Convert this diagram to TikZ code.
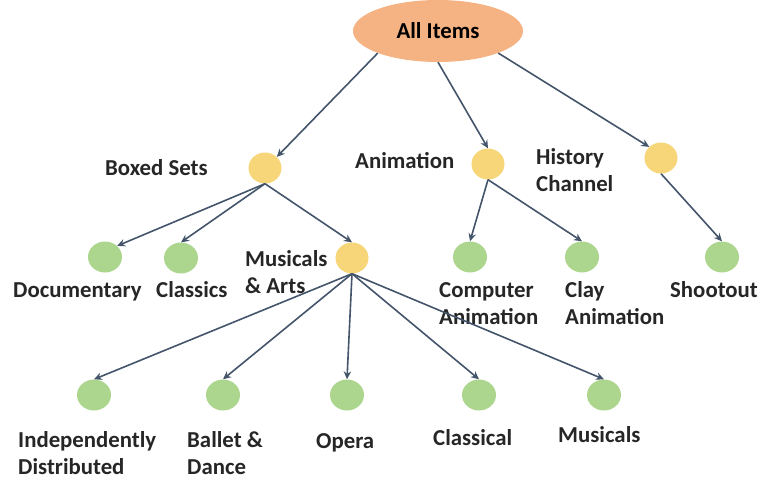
\documentclass[tikz,border=0pt]{standalone}
\usepackage{fontspec}
\setmainfont{Carlito}
\usetikzlibrary{arrows.meta,shapes.geometric}
\definecolor{rootorange}{RGB}{245,178,130}
\definecolor{catyellow}{RGB}{246,214,120}
\definecolor{leafgreen}{RGB}{172,214,142}
\definecolor{linkblue}{RGB}{68,84,106}
\definecolor{labelgray}{RGB}{38,38,38}
\begin{document}
\begin{tikzpicture}[x=1pt,y=-1pt,
	cat/.style={ellipse,fill=catyellow,minimum width=33pt,minimum height=31pt,inner sep=0pt},
	leaf/.style={ellipse,fill=leafgreen,minimum width=34pt,minimum height=31pt,inner sep=0pt},
	lbl/.style={align=left,font=\fontsize{22.8}{26.5}\selectfont\bfseries,text=labelgray,inner sep=0pt,anchor=base west},
	link/.style={draw=linkblue,line width=1.6pt,-{Stealth[length=8pt,width=7.5pt]}}]
	\useasboundingbox (0,0) rectangle (766,482);

	% root and categories
	\node[ellipse,fill=rootorange,minimum width=170pt,minimum height=62pt,inner sep=0pt,
		font=\fontsize{22.8}{26}\selectfont\bfseries,text=black] (all) at (438,31) {All Items};
	\node[cat] (boxed) at (265,168) {};
	\node[cat] (anim) at (488,164) {};
	\node[cat] (hist) at (661,158) {};
	\node[cat] (musarts) at (352,258) {};

	% leaves
	\node[leaf] (doc) at (105,257) {};
	\node[leaf] (classics) at (181,258) {};
	\node[leaf] (comp) at (470,257) {};
	\node[leaf] (clay) at (582,257) {};
	\node[leaf] (shoot) at (722,257) {};
	\node[leaf] (indep) at (94,395) {};
	\node[leaf] (ballet) at (223,395) {};
	\node[leaf] (opera) at (347,395) {};
	\node[leaf] (classical) at (479,395) {};
	\node[leaf] (musicals) at (604,395) {};

	% labels (base = last line)
	\node[lbl] (boxedtxt) at (105,175) {Boxed Sets};
	\node[lbl] (animtxt) at (355,168) {Animation};
	\node[lbl] (histtxt) at (536,191) {History\\Channel};
	\node[lbl] (doctxt) at (13,297) {Documentary};
	\node[lbl] (classicstxt) at (156,297) {Classics};
	\node[lbl] (musartstxt) at (245,293) {Musicals\\\& Arts};
	\node[lbl] (comptxt) at (439,324) {Computer\\Animation};
	\node[lbl] (claytxt) at (565,324) {Clay\\Animation};
	\node[lbl] (shoottxt) at (670,297) {Shootout};
	\node[lbl] (indeptxt) at (18,474) {Independently\\Distributed};
	\node[lbl] (ballettxt) at (187,474) {Ballet \&\\Dance};
	\node[lbl] (operatxt) at (316,448) {Opera};
	\node[lbl] (classicaltxt) at (433,445) {Classical};
	\node[lbl] (musicalstxt) at (558,442) {Musicals};

	% links
	\draw[link] (all.south west) -- (boxed.north east);
	\draw[link] (all.south) -- (anim.north);
	\draw[link] (all.south east) -- (hist.north west);
	\draw[link] (boxed.south) -- (doc.north east);
	\draw[link] (boxed.south) -- (classics.north);
	\draw[link] (boxed.south) -- (musarts.north);
	\draw[link] (anim.south) -- (comp.north);
	\draw[link] (anim.south) -- (clay.north);
	\draw[link] (hist.south) -- (shoot.north);
	\foreach \leafname in {indep,ballet,opera,classical,musicals}
		\draw[link] (musarts.south) -- (\leafname.north);
\end{tikzpicture}
\end{document}
